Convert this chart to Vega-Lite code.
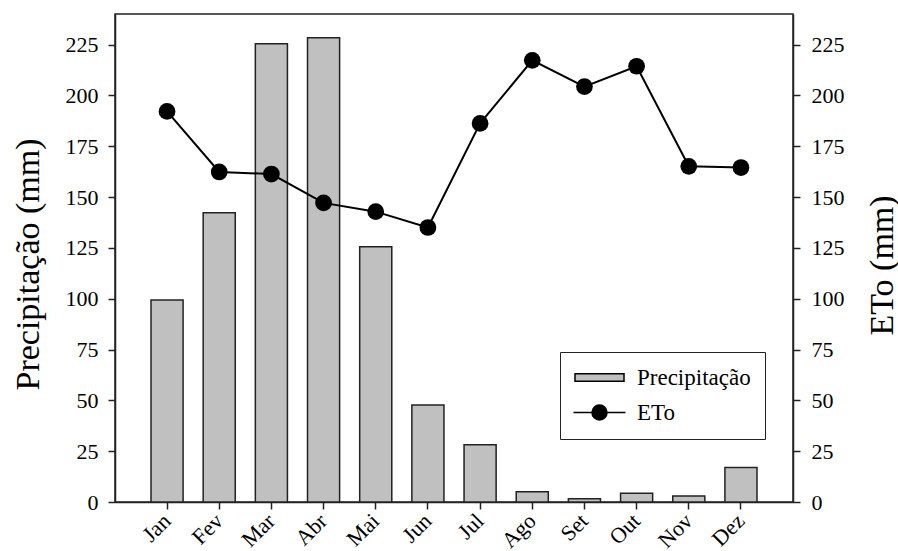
{
  "$schema": "https://vega.github.io/schema/vega-lite/v6.json",
  "width": 678,
  "height": 488,
  "autosize": {"type": "none"},
  "padding": {"left": 115, "top": 14, "right": 105, "bottom": 49},
  "background": "white",
  "config": {
    "view": {"stroke": "#222", "strokeWidth": 1.5},
    "font": "Liberation Serif",
    "axis": {
      "domainColor": "#222", "domainWidth": 1.5,
      "tickColor": "#222", "tickWidth": 1.5, "tickSize": 7,
      "grid": false,
      "labelFont": "Liberation Serif", "labelFontSize": 22, "labelColor": "black",
      "titleFont": "Liberation Serif", "titleFontSize": 34, "titleFontWeight": "normal", "titleColor": "black"
    }
  },
  "data": {"values": [
    {"mes": "Jan", "prec": 99.3, "eto": 192.1},
    {"mes": "Fev", "prec": 142.2, "eto": 162.3},
    {"mes": "Mar", "prec": 225.4, "eto": 161.3},
    {"mes": "Abr", "prec": 228.3, "eto": 147.1},
    {"mes": "Mai", "prec": 125.5, "eto": 142.8},
    {"mes": "Jun", "prec": 47.7, "eto": 135.0},
    {"mes": "Jul", "prec": 28.2, "eto": 186.2},
    {"mes": "Ago", "prec": 5.1, "eto": 217.2},
    {"mes": "Set", "prec": 1.6, "eto": 204.3},
    {"mes": "Out", "prec": 4.3, "eto": 214.3},
    {"mes": "Nov", "prec": 2.9, "eto": 165.1},
    {"mes": "Dez", "prec": 17.0, "eto": 164.5}
  ]},
  "encoding": {
    "x": {
      "field": "mes", "type": "nominal", "sort": null,
      "scale": {"paddingInner": 0.385, "paddingOuter": 0.69},
      "axis": {"title": null, "labelAngle": -45, "labelFontSize": 22, "labelPadding": 8, "labelBaseline": "middle", "labelAlign": "right", "domain": true, "ticks": true}
    }
  },
  "layer": [
    {
      "mark": {"type": "bar", "stroke": "#222", "strokeWidth": 1.5},
      "encoding": {
        "y": {
          "field": "prec", "type": "quantitative",
          "scale": {"domain": [0, 240], "nice": false, "zero": true},
          "axis": {"orient": "left", "values": [0, 25, 50, 75, 100, 125, 150, 175, 200, 225], "title": "Precipitação (mm)", "labelPadding": 10, "titleAngle": -90, "titleX": -87, "titleY": 250, "titleBaseline": "middle", "titleAlign": "center"}
        },
        "fill": {
          "datum": "Precipitação", "type": "nominal",
          "scale": {"domain": ["Precipitação", "ETo"], "range": ["#c0c0c0", "#000000"]},
          "legend": {
            "title": null,
            "orient": "none", "legendX": 445, "legendY": 338,
            "strokeColor": "#222", "fillColor": "white", "padding": 14,
            "symbolSize": 400, "symbolOffset": 14, "labelOffset": 26, "rowPadding": 11,
            "labelFont": "Liberation Serif", "labelFontSize": 23, "labelColor": "black",
            "symbolStrokeColor": "#000", "symbolStrokeWidth": 1.5,
            "encode": {
              "symbols": {
                "update": {
                  "shape": {"signal": "datum.value === 'ETo' ? 'M-2.6,0H2.6M0.75,0A0.75,0.75,0,1,1,-0.75,0A0.75,0.75,0,1,1,0.75,0Z' : 'M-2.45,-0.38H2.45V0.38H-2.45Z'"},
                  "stroke": {"value": "#000"},
                  "strokeWidth": {"value": 1.5},
                  "fillOpacity": {"value": 1},
                  "opacity": {"value": 1}
                }
              }
            }
          }
        }
      }
    },
    {
      "mark": {"type": "line", "color": "black", "strokeWidth": 2},
      "encoding": {
        "y": {
          "field": "eto", "type": "quantitative",
          "scale": {"domain": [0, 240], "nice": false, "zero": true},
          "axis": {"orient": "right", "values": [0, 25, 50, 75, 100, 125, 150, 175, 200, 225], "title": "ETo (mm)", "labelPadding": 11, "titleAngle": -90, "titleX": 89, "titleY": 251, "titleBaseline": "middle", "titleAlign": "center", "titleFontSize": 34}
        }
      }
    },
    {
      "mark": {"type": "point", "filled": true, "size": 280, "opacity": 1, "stroke": null},
      "encoding": {
        "y": {"field": "eto", "type": "quantitative", "scale": {"domain": [0, 240], "nice": false, "zero": true}, "axis": null},
        "fill": {"datum": "ETo", "type": "nominal"}
      }
    }
  ],
  "resolve": {"scale": {"y": "independent"}}
}
